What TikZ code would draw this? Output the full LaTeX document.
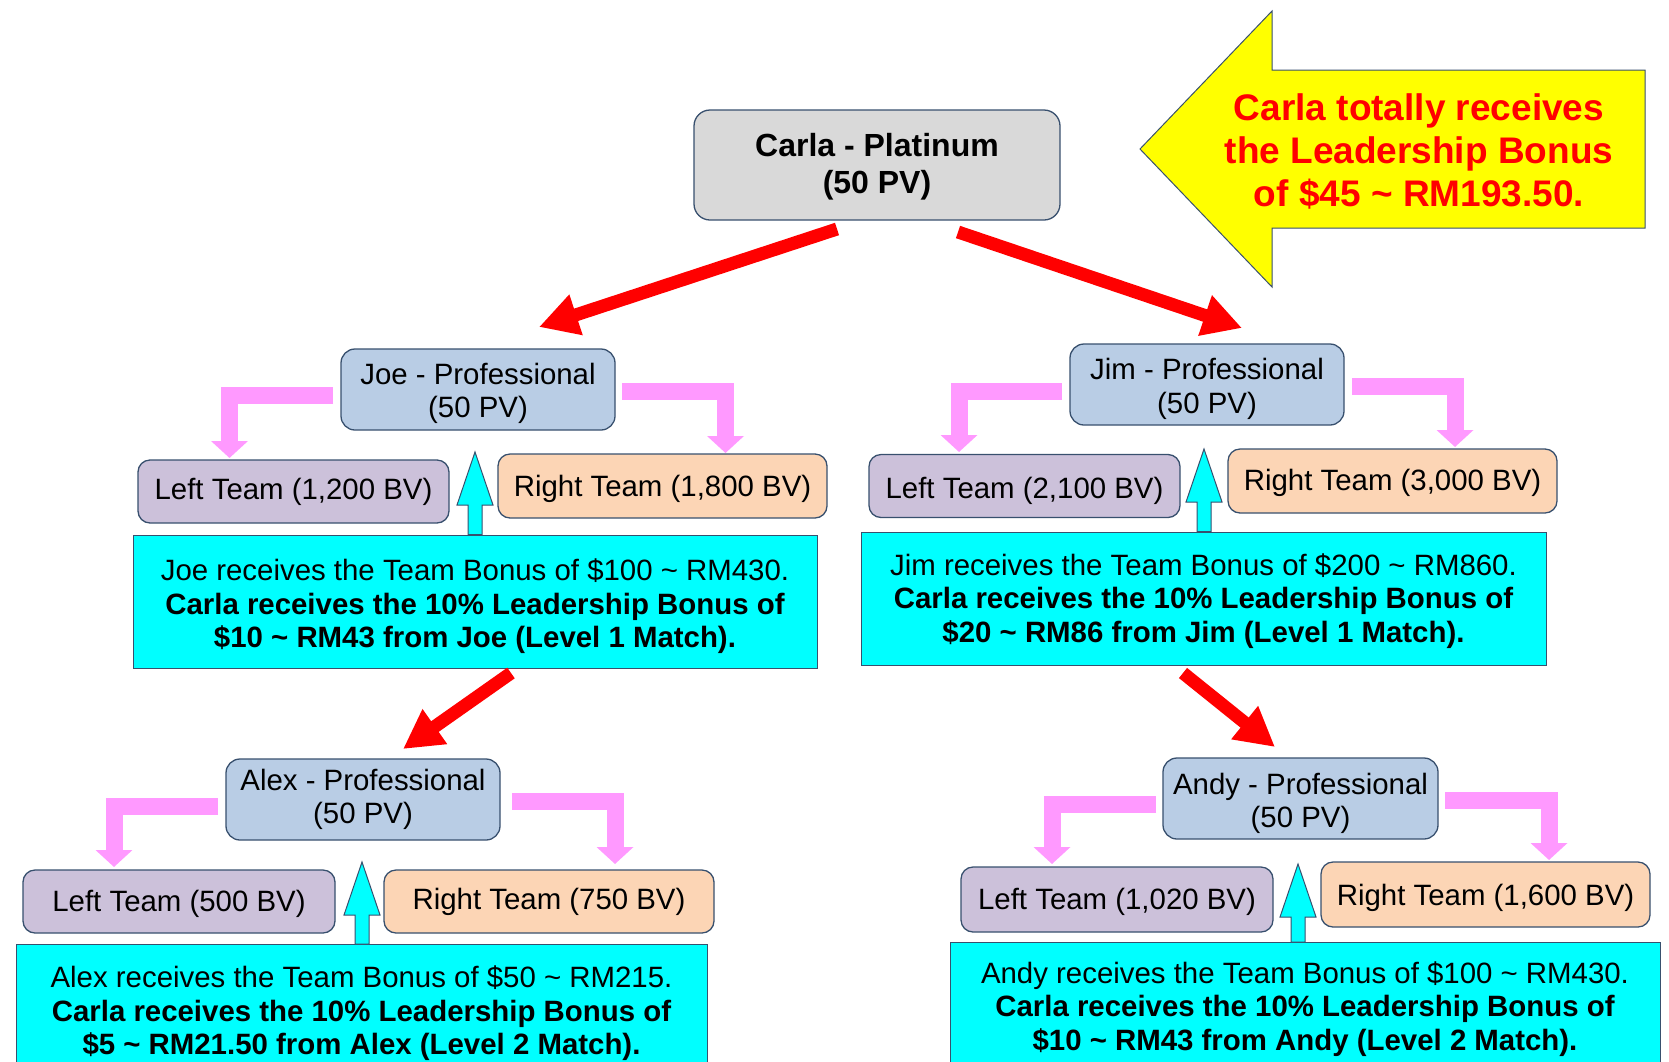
\documentclass[tikz,border=0pt]{standalone}
\usepackage{fontspec}
\setmainfont{Liberation Sans}
\usetikzlibrary{arrows.meta,calc}
\definecolor{edgec}{RGB}{56,80,110}
\definecolor{carlafill}{RGB}{217,217,217}
\definecolor{personfill}{RGB}{185,205,229}
\definecolor{leftfill}{RGB}{204,193,218}
\definecolor{rightfill}{RGB}{252,213,181}
\definecolor{bonusfill}{RGB}{0,255,255}
\definecolor{pinkc}{RGB}{255,153,255}
\definecolor{redc}{RGB}{255,0,0}
\definecolor{yellowc}{RGB}{255,255,0}
\newcommand{\upblock}[2]{%
  \draw[upstyle] (#2) -- ($(#2)+(18,53)$) -- ($(#2)+(7,53)$) -- ($(#2 |- #1.north)+(7,0)$) -- ($(#2 |- #1.north)+(-7,0)$) -- ($(#2)+(-7,53)$) -- ($(#2)+(-18,53)$) -- cycle;}
\newcommand{\lowerby}[1]{\rule{0pt}{#1}}
\begin{document}
\begin{tikzpicture}[x=1pt,y=-1pt,
  txt/.style={align=center, inner sep=0pt, font=\fontsize{29.4}{33.5}\selectfont},
  drop/.style={execute at begin node={\rule{0pt}{#1}}},
  box/.style={txt, draw=edgec, line width=1.3pt, rounded corners=14pt},
  person/.style={box, fill=personfill, minimum width=274pt, minimum height=81pt},
  lteam/.style={box, fill=leftfill, minimum width=311pt, minimum height=63pt, rounded corners=12pt},
  rteam/.style={box, fill=rightfill, minimum width=329pt, minimum height=64pt, rounded corners=12pt},
  bonus/.style={txt, draw=edgec, line width=1pt, fill=bonusfill, minimum height=133pt},
  redarrow/.style={draw=redc, line width=13pt, -{Triangle[width=40pt,length=39pt]}},
  pinkarrow/.style={draw=pinkc, line width=17pt, -{Triangle[width=36pt,length=17pt]}},
  upstyle/.style={fill=bonusfill, draw=edgec, line width=1pt, line join=miter}
]
\useasboundingbox (0,0) rectangle (1669,1061);
\clip (0,0) rectangle (1669,1061);

% top
\node[box, fill=carlafill, minimum width=366pt, minimum height=110pt, rounded corners=16pt,
      font=\bfseries\fontsize{32}{37}\selectfont] (carla) at (877,165) {\lowerby{26.5pt}Carla - Platinum\\(50 PV)};

\draw[fill=yellowc, draw=edgec, line width=1pt] (1140,149) -- (1272,11) -- (1272,70) -- (1645,70)
   -- (1645,228) -- (1272,228) -- (1272,287) -- cycle;
\node[txt, text=redc, font=\bfseries\fontsize{37}{43}\selectfont] (total) at (1419,151)
   {Carla totally receives\\the Leadership Bonus\\of \$45 \textasciitilde{} RM193.50.};

% Joe branch
\node[person] (joe) at (478,389.5) {\lowerby{28.8pt}Joe - Professional\\(50 PV)};
\node[lteam] (joeL) at (293.5,491.5) {Left Team (1,200 BV)};
\node[rteam, drop=27.9pt] (joeR) at (662.5,486) {Right Team (1,800 BV)};
\node[bonus, minimum width=684pt] (joeC) at (475,601.5)
  {\lowerby{31.1pt}Joe receives the Team Bonus of \$100 \textasciitilde{} RM430.\\
   \textbf{Carla receives the 10\% Leadership Bonus of}\\
   \textbf{\$10 \textasciitilde{} RM43 from Joe (Level 1 Match).}};

% Jim branch
\node[person] (jim) at (1207,384.5) {\lowerby{30pt}Jim - Professional\\(50 PV)};
\node[lteam, drop=30.1pt] (jimL) at (1024.5,486) {Left Team (2,100 BV)};
\node[rteam, drop=25.7pt] (jimR) at (1392.5,481) {Right Team (3,000 BV)};
\node[bonus, minimum width=685pt] (jimC) at (1203.5,598.5)
  {\lowerby{26.9pt}Jim receives the Team Bonus of \$200 \textasciitilde{} RM860.\\
   \textbf{Carla receives the 10\% Leadership Bonus of}\\
   \textbf{\$20 \textasciitilde{} RM86 from Jim (Level 1 Match).}};

% Alex branch
\node[person] (alex) at (363,799.5) {Alex - Professional\\(50 PV)};
\node[lteam, minimum width=312pt, drop=25.7pt] (alexL) at (179,901.5) {Left Team (500 BV)};
\node[rteam, minimum width=330pt, minimum height=63pt] (alexR) at (549,901.5) {Right Team (750 BV)};
\node[bonus, minimum width=691pt] (alexC) at (361.5,1011)
  {\lowerby{26.9pt}Alex receives the Team Bonus of \$50 \textasciitilde{} RM215.\\
   \textbf{Carla receives the 10\% Leadership Bonus of}\\
   \textbf{\$5 \textasciitilde{} RM21.50 from Alex (Level 2 Match).}};

% Andy branch
\node[person, minimum width=275pt] (andy) at (1300.5,798.5) {\lowerby{31pt}Andy - Professional\\(50 PV)};
\node[lteam, minimum width=312pt, minimum height=65pt, drop=25.7pt] (andyL) at (1117,899.5) {Left Team (1,020 BV)};
\node[rteam, minimum height=65pt, drop=27.9pt] (andyR) at (1485.5,894.5) {Right Team (1,600 BV)};
\node[bonus, minimum width=710pt] (andyC) at (1305,1009)
  {Andy receives the Team Bonus of \$100 \textasciitilde{} RM430.\\
   \textbf{Carla receives the 10\% Leadership Bonus of}\\
   \textbf{\$10 \textasciitilde{} RM43 from Andy (Level 2 Match).}};

% red arrows
\coordinate (r1a) at (837,229);  \coordinate (r1b) at (539,327);
\coordinate (r2a) at (958,232);  \coordinate (r2b) at (1242,328);
\coordinate (r3a) at (511,673);  \coordinate (r3b) at (403,749);
\coordinate (r4a) at (1183,673); \coordinate (r4b) at (1275,747);
\draw[redarrow] (r1a) -- (r1b);
\draw[redarrow] (r2a) -- (r2b);
\draw[redarrow] (r3a) -- (r3b);
\draw[redarrow] (r4a) -- (r4b);

% pink elbow arrows
\coordinate (p1a) at (333,395.5);  \coordinate (p1b) at (229.5,458);
\coordinate (p2a) at (622,391);    \coordinate (p2b) at (725.5,453);
\coordinate (p3a) at (1062,391.5); \coordinate (p3b) at (959,452);
\coordinate (p4a) at (1352,386.5); \coordinate (p4b) at (1455,447);
\coordinate (p5a) at (218,806.5);  \coordinate (p5b) at (114,867);
\coordinate (p6a) at (512,801.5);  \coordinate (p6b) at (615,864);
\coordinate (p7a) at (1156,804.5); \coordinate (p7b) at (1052,864);
\coordinate (p8a) at (1445,800.5); \coordinate (p8b) at (1549,860);
\foreach \i in {1,...,8} {\draw[pinkarrow] (p\i a) -| (p\i b);}

% cyan up arrows
\coordinate (t1) at (475,452);
\coordinate (t2) at (1204,449);
\coordinate (t3) at (362,862);
\coordinate (t4) at (1298,864);
\upblock{joeC}{t1}
\upblock{jimC}{t2}
\upblock{alexC}{t3}
\upblock{andyC}{t4}
\end{tikzpicture}
\end{document}
